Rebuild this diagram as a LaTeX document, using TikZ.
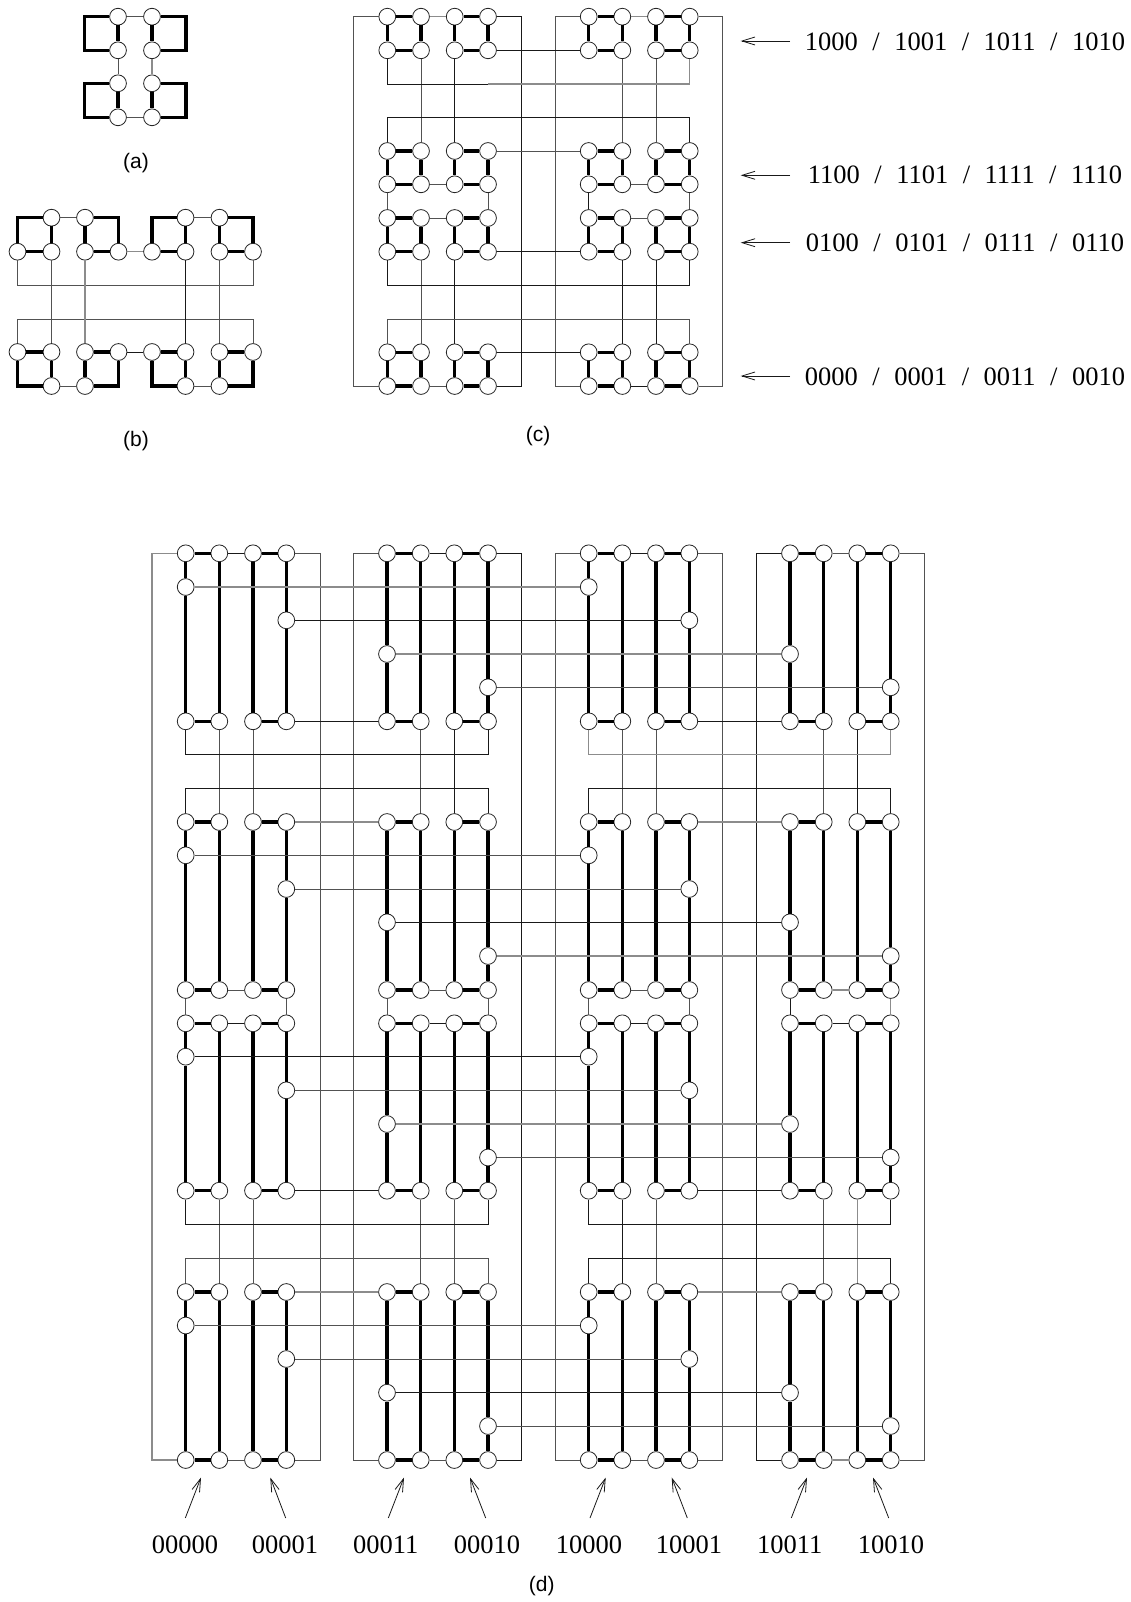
\documentclass[tikz,border=0pt]{standalone}
\usepackage{fontspec}
\setmainfont{Liberation Serif}
\newfontfamily\lblsans{Liberation Sans}
\usetikzlibrary{arrows.meta}
\tikzset{
  pt/.style={circle,draw=black!85,fill=white,line width=0.8pt,minimum size=16.8pt,inner sep=0pt},
  heavy/.style={line width=3.2pt,black,line join=miter},
  wireK/.style={line width=0.9pt,black!90},
  wireG/.style={line width=0.9pt,black!68},
  wireL/.style={line width=1.2pt,black!45},
  pointer/.style={line width=0.8pt,black!90,-{Straight Barb[length=13pt,width=8pt]}},
  code/.style={font=\fontsize{26.5}{30}\selectfont,anchor=base,inner sep=0pt},
  tag/.style={font=\lblsans\fontsize{21}{25}\selectfont,inner sep=0pt}
}
\begin{document}
\begin{tikzpicture}[x=1pt,y=-1pt]
\useasboundingbox (0,0) rectangle (1131,1602);
\fill[white] (0,0) rectangle (1131,1602);

% ---------- panel (a)
\coordinate (aL) at (84.5,0);
\coordinate (aR) at (186,0);
\node[pt] (a11) at (118,16.7) {};
\node[pt] (a12) at (152,16.7) {};
\node[pt] (a21) at (118,50.3) {};
\node[pt] (a22) at (152,50.3) {};
\node[pt] (a31) at (118,83.3) {};
\node[pt] (a32) at (152,83.3) {};
\node[pt] (a41) at (118,117.3) {};
\node[pt] (a42) at (152,117.3) {};
\foreach \r/\s in {1/2,3/4}{
  \draw[heavy] (a\r1) -- (aL |- a\r1) -- (aL |- a\s1) -- (a\s1);
  \draw[heavy] (a\r2) -- (aR |- a\r2) -- (aR |- a\s2) -- (a\s2);
  \draw[heavy] (a\r1) -- (a\s1);
  \draw[heavy] (a\r2) -- (a\s2);
}
\draw[wireG] (a11) -- (a12);
\draw[wireG] (a41) -- (a42);
\draw[wireG] (a21) -- (a31);
\draw[wireL] (a22) -- (a32);
\node[tag] (lblA) at (136,163) {(a)};

% ---------- panel (b)
\foreach \i/\x in {1/17.5,2/51.5,3/85,4/118.5,5/152,6/185.5,7/219.5,8/253}{
  \node[pt] (b2-\i) at (\x,251.7) {};
  \node[pt] (b3-\i) at (\x,352) {};
}
\foreach \i/\x in {2/51.5,3/85,6/185.5,7/219.5}{
  \node[pt] (b1-\i) at (\x,217.7) {};
  \node[pt] (b4-\i) at (\x,386) {};
}
\foreach \p/\q/\u/\v in {1/2/3/4,5/6/7/8}{
  \draw[heavy] (b1-\q) -- (b2-\p |- b1-\q) -- (b2-\p);
  \draw[heavy] (b1-\u) -- (b2-\v |- b1-\u) -- (b2-\v);
  \draw[heavy] (b4-\q) -- (b3-\p |- b4-\q) -- (b3-\p);
  \draw[heavy] (b4-\u) -- (b3-\v |- b4-\u) -- (b3-\v);
  \draw[heavy] (b2-\p) -- (b2-\q);
  \draw[heavy] (b2-\u) -- (b2-\v);
  \draw[heavy] (b3-\p) -- (b3-\q);
  \draw[heavy] (b3-\u) -- (b3-\v);
  \draw[heavy] (b1-\q) -- (b2-\q);
  \draw[heavy] (b1-\u) -- (b2-\u);
  \draw[heavy] (b3-\q) -- (b4-\q);
  \draw[heavy] (b3-\u) -- (b4-\u);
  \draw[wireG] (b1-\q) -- (b1-\u);
  \draw[wireG] (b4-\q) -- (b4-\u);
}
\coordinate (bA) at (0,285);
\coordinate (bB) at (0,319);
\draw[wireG] (b2-1) -- (b2-1 |- bA) -- (b2-8 |- bA) -- (b2-8);
\draw[wireG] (b3-1) -- (b3-1 |- bB) -- (b3-8 |- bB) -- (b3-8);
\draw[wireL] (b2-4) -- (b2-5);
\draw[wireK] (b3-4) -- (b3-5);
\draw[wireG] (b2-2) -- (b3-2);
\draw[wireL] (b2-3) -- (b3-3);
\draw[wireK] (b2-6) -- (b3-6);
\draw[wireG] (b2-7) -- (b3-7);
\node[tag] (lblB) at (136,441) {(b)};

% ---------- panel (c)
\foreach \g/\xa/\xb/\xc/\xd in {1/387.3/421/454.7/488,2/588.7/622.3/656/689.7}{
  \foreach \b/\ya/\yb in {1/16.7/50.3,2/151/184.3,3/218/251.7,4/352.3/386}{
    \node[pt] (c\g-\b-t1) at (\xa,\ya) {};
    \node[pt] (c\g-\b-t2) at (\xb,\ya) {};
    \node[pt] (c\g-\b-t3) at (\xc,\ya) {};
    \node[pt] (c\g-\b-t4) at (\xd,\ya) {};
    \node[pt] (c\g-\b-b1) at (\xa,\yb) {};
    \node[pt] (c\g-\b-b2) at (\xb,\yb) {};
    \node[pt] (c\g-\b-b3) at (\xc,\yb) {};
    \node[pt] (c\g-\b-b4) at (\xd,\yb) {};
    \draw[heavy] (c\g-\b-t1) -- (c\g-\b-t2);
    \draw[heavy] (c\g-\b-t3) -- (c\g-\b-t4);
    \draw[heavy] (c\g-\b-b1) -- (c\g-\b-b2);
    \draw[heavy] (c\g-\b-b3) -- (c\g-\b-b4);
    \draw[heavy] (c\g-\b-t1) -- (c\g-\b-b1);
    \draw[heavy] (c\g-\b-t2) -- (c\g-\b-b2);
    \draw[heavy] (c\g-\b-t3) -- (c\g-\b-b3);
    \draw[heavy] (c\g-\b-t4) -- (c\g-\b-b4);
  }
}
\coordinate (cL1) at (353.3,0);
\coordinate (cR1) at (521.3,0);
\coordinate (cL2) at (555,0);
\coordinate (cR2) at (722.7,0);
\coordinate (cY1) at (0,84);
\coordinate (cY2) at (0,117.3);
\coordinate (cY3) at (0,285.3);
\coordinate (cY4) at (0,319);
\draw[wireG] (c1-1-t1) -- (cL1 |- c1-1-t1) -- (cL1 |- c1-4-b1) -- (c1-4-b1);
\draw[wireK] (c1-1-t4) -- (cR1 |- c1-1-t4) -- (cR1 |- c1-4-b4) -- (c1-4-b4);
\draw[wireG] (c2-1-t1) -- (cL2 |- c2-1-t1) -- (cL2 |- c2-4-b1) -- (c2-4-b1);
\draw[wireG] (c2-1-t4) -- (cR2 |- c2-1-t4) -- (cR2 |- c2-4-b4) -- (c2-4-b4);
\foreach \g/\st in {1/wireL,2/wireL}{\draw[\st] (c\g-1-t2) -- (c\g-1-t3);}
\draw[wireG] (c1-2-b2) -- (c1-2-b3);
\draw[wireG] (c2-2-b2) -- (c2-2-b3);
\draw[wireG] (c1-3-t2) -- (c1-3-t3);
\draw[wireG] (c2-3-t2) -- (c2-3-t3);
\draw[wireG] (c1-4-b2) -- (c1-4-b3);
\draw[wireK] (c2-4-b2) -- (c2-4-b3);
\draw[wireG] (c1-2-b1) -- (c1-3-t1);
\draw[wireG] (c1-2-b4) -- (c1-3-t4);
\draw[wireK] (c2-2-b1) -- (c2-3-t1);
\draw[wireG] (c2-2-b4) -- (c2-3-t4);
\draw[wireG] (c1-1-b2) -- (c1-2-t2);
\draw[wireK] (c1-1-b3) -- (c1-2-t3);
\draw[wireG] (c2-1-b2) -- (c2-2-t2);
\draw[wireG] (c2-1-b3) -- (c2-2-t3);
\draw[wireG] (c1-3-b2) -- (c1-4-t2);
\draw[wireK] (c1-3-b3) -- (c1-4-t3);
\draw[wireK] (c2-3-b2) -- (c2-4-t2);
\draw[wireK] (c2-3-b3) -- (c2-4-t3);
\draw[wireK] (c1-1-b4) -- (c2-1-b1);
\draw[wireG] (c1-2-t4) -- (c2-2-t1);
\draw[wireK] (c1-3-b4) -- (c2-3-b1);
\draw[wireK] (c1-4-t4) -- (c2-4-t1);
\draw[wireK] (c1-1-b1) -- (c1-1-b1 |- cY1) -- (c1-1-b4 |- cY1);
\draw[wireL] (c1-1-b4 |- cY1) -- (c2-1-b4 |- cY1) -- (c2-1-b4);
\draw[wireK] (c1-2-t1) -- (c1-2-t1 |- cY2) -- (c2-2-t4 |- cY2) -- (c2-2-t4);
\draw[wireK] (c1-3-b1) -- (c1-3-b1 |- cY3) -- (c2-3-b4 |- cY3) -- (c2-3-b4);
\draw[wireG] (c1-4-t1) -- (c1-4-t1 |- cY4) -- (c2-4-t4 |- cY4) -- (c2-4-t4);
\node[tag] (lblC) at (538,436) {(c)};

% labels of panel (c)
\foreach \k/\txt/\yt/\ya in {
  1/{1000\hspace{14.5pt}/\hspace{14.5pt}1001\hspace{14.5pt}/\hspace{14.5pt}1011\hspace{14.5pt}/\hspace{14.5pt}1010}/50.7/41,
  2/{1100\hspace{14.5pt}/\hspace{14.5pt}1101\hspace{14.5pt}/\hspace{14.5pt}1111\hspace{14.5pt}/\hspace{14.5pt}1110}/184/175.3,
  3/{0100\hspace{14.5pt}/\hspace{14.5pt}0101\hspace{14.5pt}/\hspace{14.5pt}0111\hspace{14.5pt}/\hspace{14.5pt}0110}/252/242.7,
  4/{0000\hspace{14.5pt}/\hspace{14.5pt}0001\hspace{14.5pt}/\hspace{14.5pt}0011\hspace{14.5pt}/\hspace{14.5pt}0010}/385.7/376}{
  \node[code] (cw\k) at (965,\yt) {\txt};
  \coordinate (cwa\k) at (790,\ya);
  \coordinate (cwb\k) at (740.7,\ya);
  \draw[pointer] (cwa\k) -- (cwb\k);
}

% ---------- panel (d)
\foreach \g/\xa/\xb/\xc/\xd in {1/185.7/219.3/253/286.3,2/387/420.7/454.3/488,3/588.7/622.3/656/689.3,4/790/823.7/857.3/890.7}{
  \foreach \b/\ya/\yb in {1/553.3/721.3,2/822/990,3/1023.3/1190.7,4/1292/1460}{
    \node[pt] (d\g-\b-t1) at (\xa,\ya) {};
    \node[pt] (d\g-\b-t2) at (\xb,\ya) {};
    \node[pt] (d\g-\b-t3) at (\xc,\ya) {};
    \node[pt] (d\g-\b-t4) at (\xd,\ya) {};
    \node[pt] (d\g-\b-b1) at (\xa,\yb) {};
    \node[pt] (d\g-\b-b2) at (\xb,\yb) {};
    \node[pt] (d\g-\b-b3) at (\xc,\yb) {};
    \node[pt] (d\g-\b-b4) at (\xd,\yb) {};
  }
}
\foreach \b/\p/\q/\r/\s in {1/587/620.3/654/687.3,2/855.3/889/922.3/956,3/1056.7/1090.3/1124/1157.5,4/1325.5/1359/1392.7/1426}{
  \node[pt] (d1-\b-m1) at (185.7,\p) {};
  \node[pt] (d3-\b-m1) at (588.7,\p) {};
  \node[pt] (d1-\b-m2) at (286.3,\q) {};
  \node[pt] (d3-\b-m2) at (689.3,\q) {};
  \node[pt] (d2-\b-m1) at (387,\r) {};
  \node[pt] (d4-\b-m1) at (790,\r) {};
  \node[pt] (d2-\b-m2) at (488,\s) {};
  \node[pt] (d4-\b-m2) at (890.7,\s) {};
}
% bold edges of every block
\foreach \g in {1,2,3,4}{
  \foreach \b in {1,2,3,4}{
    \draw[heavy] (d\g-\b-t1) -- (d\g-\b-t2);
    \draw[heavy] (d\g-\b-t3) -- (d\g-\b-t4);
    \draw[heavy] (d\g-\b-b1) -- (d\g-\b-b2);
    \draw[heavy] (d\g-\b-b3) -- (d\g-\b-b4);
    \draw[heavy] (d\g-\b-t2) -- (d\g-\b-b2);
    \draw[heavy] (d\g-\b-t3) -- (d\g-\b-b3);
    \draw[heavy] (d\g-\b-t1) -- (d\g-\b-m1);
    \draw[heavy] (d\g-\b-m1) -- (d\g-\b-b1);
    \draw[heavy] (d\g-\b-t4) -- (d\g-\b-m2);
    \draw[heavy] (d\g-\b-m2) -- (d\g-\b-b4);
  }
}
% outer frames
\coordinate (dL1) at (152,0);   \coordinate (dR1) at (320,0);
\coordinate (dL2) at (353.3,0); \coordinate (dR2) at (521.3,0);
\coordinate (dL3) at (555.3,0); \coordinate (dR3) at (722.7,0);
\coordinate (dL4) at (756.7,0); \coordinate (dR4) at (924.3,0);
\foreach \g/\sl/\sr in {1/wireL/wireG,2/wireG/wireK,3/wireG/wireG,4/wireK/wireG}{
  \draw[\sl] (d\g-1-t1) -- (dL\g |- d\g-1-t1) -- (dL\g |- d\g-4-b1) -- (d\g-4-b1);
  \draw[\sr] (d\g-1-t4) -- (dR\g |- d\g-1-t4) -- (dR\g |- d\g-4-b4) -- (d\g-4-b4);
}
% thin edges inside the columns
\foreach \g/\sa/\sb/\sc/\sd in {1/wireK/wireG/wireK/wireG,2/wireK/wireG/wireK/wireG,3/wireK/wireG/wireK/wireG,4/wireG/wireL/wireK/wireL}{
  \draw[\sa] (d\g-1-t2) -- (d\g-1-t3);
  \draw[\sb] (d\g-2-b2) -- (d\g-2-b3);
  \draw[\sc] (d\g-3-t2) -- (d\g-3-t3);
  \draw[\sd] (d\g-4-b2) -- (d\g-4-b3);
}
\foreach \g/\sa/\sb/\sc/\sd in {1/wireG/wireG/wireG/wireG,2/wireG/wireK/wireG/wireG,3/wireG/wireG/wireK/wireG,4/wireG/wireK/wireG/wireL}{
  \draw[\sa] (d\g-1-b2) -- (d\g-2-t2);
  \draw[\sb] (d\g-1-b3) -- (d\g-2-t3);
  \draw[\sc] (d\g-3-b2) -- (d\g-4-t2);
  \draw[\sd] (d\g-3-b3) -- (d\g-4-t3);
}
\foreach \g/\sa/\sb in {1/wireG/wireG,2/wireG/wireG,3/wireG/wireG,4/wireK/wireL}{
  \draw[\sa] (d\g-2-b1) -- (d\g-3-t1);
  \draw[\sb] (d\g-2-b4) -- (d\g-3-t4);
}
% links between neighbouring columns
\draw[wireK] (d1-1-b4) -- (d2-1-b1);
\draw[wireK] (d3-1-b4) -- (d4-1-b1);
\draw[wireL] (d1-2-t4) -- (d2-2-t1);
\draw[wireL] (d3-2-t4) -- (d4-2-t1);
\draw[wireK] (d1-3-b4) -- (d2-3-b1);
\draw[wireK] (d3-3-b4) -- (d4-3-b1);
\draw[wireL] (d1-4-t4) -- (d2-4-t1);
\draw[wireL] (d3-4-t4) -- (d4-4-t1);
% U-shaped links
\coordinate (dYa) at (0,754.3);
\coordinate (dYb) at (0,788.3);
\coordinate (dYc) at (0,1224.5);
\coordinate (dYd) at (0,1258.3);
\foreach \g/\h/\sa/\sb/\sc/\sd in {1/2/wireK/wireK/wireK/wireG,3/4/wireL/wireK/wireK/wireK}{
  \draw[\sa] (d\g-1-b1) -- (d\g-1-b1 |- dYa) -- (d\h-1-b4 |- dYa) -- (d\h-1-b4);
  \draw[\sb] (d\g-2-t1) -- (d\g-2-t1 |- dYb) -- (d\h-2-t4 |- dYb) -- (d\h-2-t4);
  \draw[\sc] (d\g-3-b1) -- (d\g-3-b1 |- dYc) -- (d\h-3-b4 |- dYc) -- (d\h-3-b4);
  \draw[\sd] (d\g-4-t1) -- (d\g-4-t1 |- dYd) -- (d\h-4-t4 |- dYd) -- (d\h-4-t4);
}
% long horizontal links
\draw[wireL] (d1-1-m1) -- (d3-1-m1);
\draw[wireK] (d1-1-m2) -- (d3-1-m2);
\draw[wireL] (d2-1-m1) -- (d4-1-m1);
\draw[wireG] (d2-1-m2) -- (d4-1-m2);
\draw[wireG] (d1-2-m1) -- (d3-2-m1);
\draw[wireG] (d1-2-m2) -- (d3-2-m2);
\draw[wireK] (d2-2-m1) -- (d4-2-m1);
\draw[wireL] (d2-2-m2) -- (d4-2-m2);
\draw[wireK] (d1-3-m1) -- (d3-3-m1);
\draw[wireG] (d1-3-m2) -- (d3-3-m2);
\draw[wireL] (d2-3-m1) -- (d4-3-m1);
\draw[wireG] (d2-3-m2) -- (d4-3-m2);
\draw[wireG] (d1-4-m1) -- (d3-4-m1);
\draw[wireG] (d1-4-m2) -- (d3-4-m2);
\draw[wireK] (d2-4-m1) -- (d4-4-m1);
\draw[wireG] (d2-4-m2) -- (d4-4-m2);
% bottom labels and arrows
\foreach \k/\txt/\tx/\ax/\bx in {
  1/00000/185/185.3/201,
  2/00001/285/285.7/270.3,
  3/00011/385.7/388.3/404,
  4/00010/487/485.7/470,
  5/10000/589/590/605.7,
  6/10001/689/687.3/671.7,
  7/10011/789.7/791.3/807,
  8/10010/891/888.7/873}{
  \node[code] (dw\k) at (\tx,1553) {\txt};
  \coordinate (dwa\k) at (\ax,1518);
  \coordinate (dwb\k) at (\bx,1477.5);
  \draw[pointer] (dwa\k) -- (dwb\k);
}
\node[tag] (lblD) at (541.7,1586) {(d)};
\end{tikzpicture}
\end{document}
